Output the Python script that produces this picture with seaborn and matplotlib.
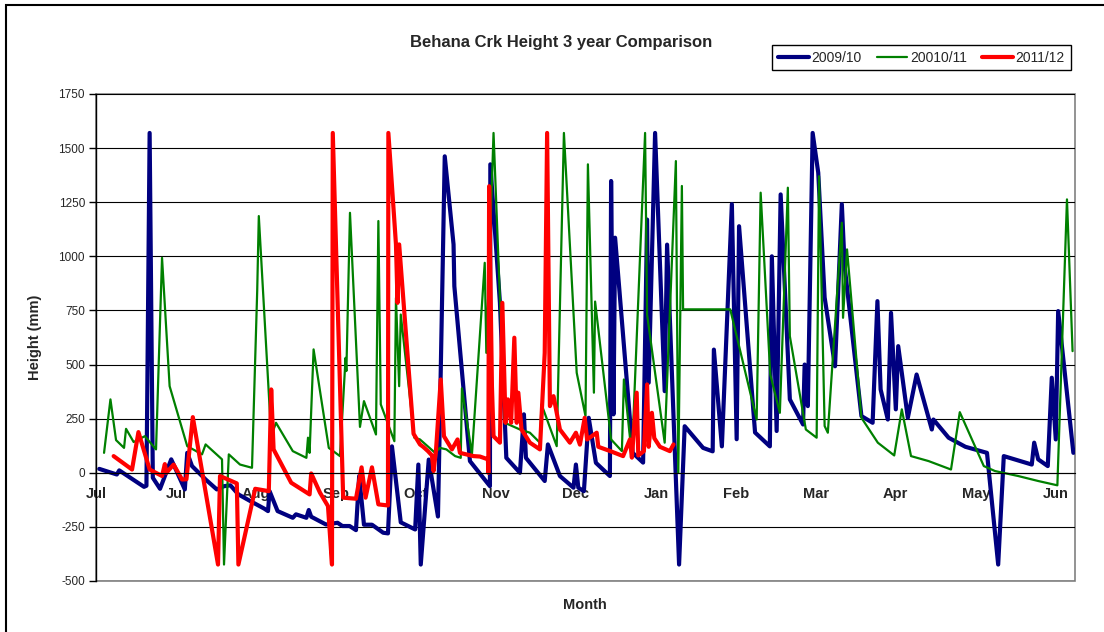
import numpy as np
import pandas as pd
import seaborn as sns
import matplotlib.pyplot as plt
from matplotlib.patches import Rectangle

sns.set_style("white")
plt.rcParams['font.family'] = ['Liberation Sans', 'DejaVu Sans']

# month labels along the category axis (position 0 = first "Jul" label)
months = ["Jul", "Jul", "Aug", "Sep", "Oct", "Nov", "Dec", "Jan", "Feb", "Mar", "Apr", "May", "Jun"]
y_ticks = [-500, -250, 0, 250, 500, 750, 1000, 1250, 1500, 1750]
series_names = ["2009/10", "20010/11", "2011/12"]

# (position in month units, height mm)
pts_0910 = [
    (0.04, 18), (0.26, -8), (0.29, 11), (0.6, -65), (0.63, -60), (0.67, 1570), (0.71, -23),
    (0.8, -74), (0.94, 62), (1.11, -77), (1.14, 92), (1.2, 31), (1.37, -31), (1.51, -77),
    (1.6, -62), (1.68, -58), (1.78, -100), (1.93, -131), (2.1, -165), (2.15, -177), (2.17, -85),
    (2.27, -177), (2.46, -208), (2.5, -192), (2.63, -208), (2.66, -172), (2.69, -203),
    (2.875, -239), (3.02, -231), (3.08, -246), (3.17, -246), (3.25, -265), (3.29, -15),
    (3.35, -240), (3.45, -240), (3.59, -277), (3.65, -280), (3.7, 122), (3.81, -229),
    (3.99, -262), (4.03, 38), (4.06, -424), (4.16, 61), (4.275, -202), (4.29, 75), (4.36, 1462),
    (4.47, 1055), (4.48, 862), (4.675, 54), (4.925, -62), (4.93, 1425), (5.05, 785), (5.13, 69),
    (5.3, 0), (5.35, 270), (5.375, 69), (5.61, -38), (5.65, 131), (5.8, -15), (5.97, -69),
    (6.0, 38), (6.03, -69), (6.1, -85), (6.16, 254), (6.25, 46), (6.425, -15), (6.44, 1348),
    (6.47, 270), (6.49, 1086), (6.71, 92), (6.84, 47), (6.89, 1170), (6.91, 416), (6.99, 1570),
    (7.11, 377), (7.14, 1054), (7.29, -424), (7.36, 215), (7.59, 115), (7.71, 99), (7.725, 569),
    (7.825, 122), (7.95, 1241), (8.01, 155), (8.04, 1139), (8.24, 186), (8.425, 122),
    (8.45, 1000), (8.51, 193), (8.56, 1286), (8.675, 339), (8.84, 223), (8.86, 500), (8.9, 308),
    (8.96, 1570), (9.03, 1386), (9.11, 810), (9.24, 492), (9.325, 1241), (9.36, 955),
    (9.57, 262), (9.71, 231), (9.77, 793), (9.81, 385), (9.9, 246), (9.94, 739), (10.0, 293),
    (10.03, 585), (10.15, 254), (10.26, 454), (10.45, 200), (10.47, 246), (10.66, 162),
    (10.87, 120), (11.14, 92), (11.28, -424), (11.35, 77), (11.7, 38), (11.73, 139), (11.78, 62),
    (11.9, 31), (11.95, 439), (12.0, 154), (12.03, 747), (12.22, 92),
]

pts_1011 = [
    (0.1, 92), (0.18, 339), (0.25, 151), (0.35, 115), (0.375, 203), (0.47, 142), (0.61, 169),
    (0.75, 108), (0.825, 993), (0.92, 400), (1.14, 123), (1.325, 85), (1.37, 131), (1.575, 62),
    (1.6, -424), (1.66, 85), (1.8, 38), (1.95, 23), (2.015, 840), (2.035, 1186), (2.19, 169),
    (2.25, 231), (2.46, 100), (2.63, 69), (2.65, 162), (2.67, 92), (2.72, 570), (2.91, 115),
    (3.05, 77), (3.12, 531), (3.13, 470), (3.175, 1201), (3.3, 212), (3.35, 331), (3.5, 177),
    (3.53, 1163), (3.56, 316), (3.73, 146), (3.75, 808), (3.79, 400), (3.81, 731), (3.98, 162),
    (4.05, 154), (4.24, 92), (4.3, 115), (4.38, 108), (4.49, 77), (4.56, 69), (4.575, 390),
    (4.7, 85), (4.86, 970), (4.88, 554), (4.97, 1570), (5.11, 231), (5.3, 200), (5.425, 185),
    (5.55, 139), (5.57, 316), (5.76, 123), (5.85, 1570), (6.01, 462), (6.12, 262), (6.15, 1425),
    (6.225, 370), (6.24, 791), (6.44, 154), (6.575, 100), (6.6, 431), (6.7, 77), (6.865, 1570),
    (6.89, 731), (7.11, 139), (7.25, 1440), (7.28, 0), (7.325, 1325), (7.34, 755), (7.93, 755),
    (8.26, 246), (8.31, 1294), (8.43, 454), (8.55, 277), (8.65, 1317), (8.675, 631), (8.875, 200),
    (9.01, 162), (9.04, 1370), (9.11, 216), (9.15, 185), (9.325, 1155), (9.34, 716), (9.39, 1032),
    (9.57, 254), (9.775, 139), (9.98, 80), (10.075, 293), (10.19, 77), (10.41, 54), (10.69, 15),
    (10.8, 280), (11.1, 31), (11.24, 8), (11.53, -15), (11.78, -38), (12.02, -58), (12.14, 1263),
    (12.21, 562),
]

pts_1112 = [
    (0.22, 77), (0.45, 15), (0.53, 188), (0.67, 15), (0.825, -15), (0.86, 40), (0.88, 0),
    (0.97, 38), (1.075, -31), (1.13, -30), (1.21, 257), (1.525, -424), (1.55, -15), (1.76, -49),
    (1.78, -424), (1.99, -74), (2.16, -85), (2.19, 385), (2.22, 108), (2.44, -46), (2.67, -100),
    (2.69, -3), (2.8, -92), (2.9, -154), (2.95, -424), (2.96, 1570), (3.09, -115), (3.25, -120),
    (3.32, 25), (3.37, -115), (3.45, 25), (3.53, -146), (3.65, -151), (3.655, 1570), (3.75, 1055),
    (3.77, 785), (3.79, 1055), (3.97, 180), (4.05, 131), (4.09, 120), (4.15, 100), (4.2, 80),
    (4.22, 8), (4.25, 100), (4.31, 431), (4.35, 169), (4.45, 108), (4.52, 154), (4.55, 92),
    (4.72, 77), (4.8, 75), (4.9, 62), (4.905, 0), (4.915, 1324), (4.95, 400), (4.97, 169),
    (5.05, 139), (5.08, 785), (5.12, 231), (5.15, 339), (5.19, 231), (5.23, 624), (5.26, 231),
    (5.28, 370), (5.32, 200), (5.425, 139), (5.55, 108), (5.61, 554), (5.64, 1570), (5.675, 308),
    (5.72, 354), (5.8, 200), (5.925, 139), (6.0, 185), (6.05, 130), (6.11, 254), (6.14, 154),
    (6.26, 185), (6.28, 120), (6.43, 100), (6.59, 77), (6.675, 154), (6.7, 70), (6.76, 370),
    (6.78, 80), (6.85, 100), (6.89, 408), (6.91, 120), (6.95, 277), (6.98, 160), (7.05, 120),
    (7.175, 100), (7.22, 131),
]

colors = {"2009/10": "#000080", "20010/11": "#008000", "2011/12": "#FF0000"}
widths = {"2009/10": 3.0, "20010/11": 1.6, "2011/12": 3.0}

fig = plt.figure(figsize=(11.04, 6.32), dpi=100)
ax = fig.add_axes([0.087, 0.0807, 0.8867, 0.7706])

for name, pts in zip(series_names, [pts_0910, pts_1011, pts_1112]):
    df = pd.DataFrame(pts, columns=["pos", "height"])
    sns.lineplot(data=df, x="pos", y="height", sort=False, estimator=None,
                 color=colors[name], linewidth=widths[name], label=name, ax=ax)

ax.set_xlim(0, 12.24)
ax.set_ylim(-500, 1750)
ax.set_yticks(y_ticks)
ax.set_yticklabels([str(v) for v in y_ticks], fontsize=8.5)
ax.yaxis.grid(True, color="black", linewidth=0.8)
ax.set_axisbelow(True)
ax.tick_params(axis="y", direction="out", length=5, width=1, color="black", left=True, pad=3)

# category axis crosses at zero
ax.spines["bottom"].set_position(("data", 0))
ax.spines["bottom"].set_color("black")
ax.spines["left"].set_color("black")
ax.spines["left"].set_linewidth(1)
for s in ["top", "right"]:
    ax.spines[s].set_visible(False)
ax.set_xticks(range(len(months)))
ax.set_xticklabels(months, fontsize=10.5, fontweight="bold")
ax.tick_params(axis="x", length=0, pad=10)
ax.set_xlabel("")
ax.set_ylabel("")
ax.add_patch(Rectangle((0, 0), 1, 1, transform=ax.transAxes, fill=False,
                       edgecolor="#808080", linewidth=1.2, clip_on=False, zorder=0))

handles, labels = ax.get_legend_handles_labels()
ax.get_legend().remove()
fig.legend(handles, labels, loc="center", bbox_to_anchor=(0.8347, 0.909), ncol=3,
           fontsize=10, frameon=True, fancybox=False, edgecolor="black", framealpha=1,
           handlelength=2.2, handletextpad=0.2, columnspacing=1.1, borderpad=0.4)

fig.text(0.508, 0.932, "Behana Crk Height 3 year Comparison", ha="center", va="center",
         fontsize=12, fontweight="bold")
fig.text(0.032, 0.466, "Height (mm)", ha="center", va="center", rotation=90,
         fontsize=10.5, fontweight="bold")
fig.text(0.53, 0.043, "Month", ha="center", va="center", fontsize=10.5, fontweight="bold")

fig.patches.append(Rectangle((0.0055, -0.1), 1.2, 1.092, transform=fig.transFigure,
                             fill=False, edgecolor="black", linewidth=1.5))

fig.savefig("out.png", dpi=100)
